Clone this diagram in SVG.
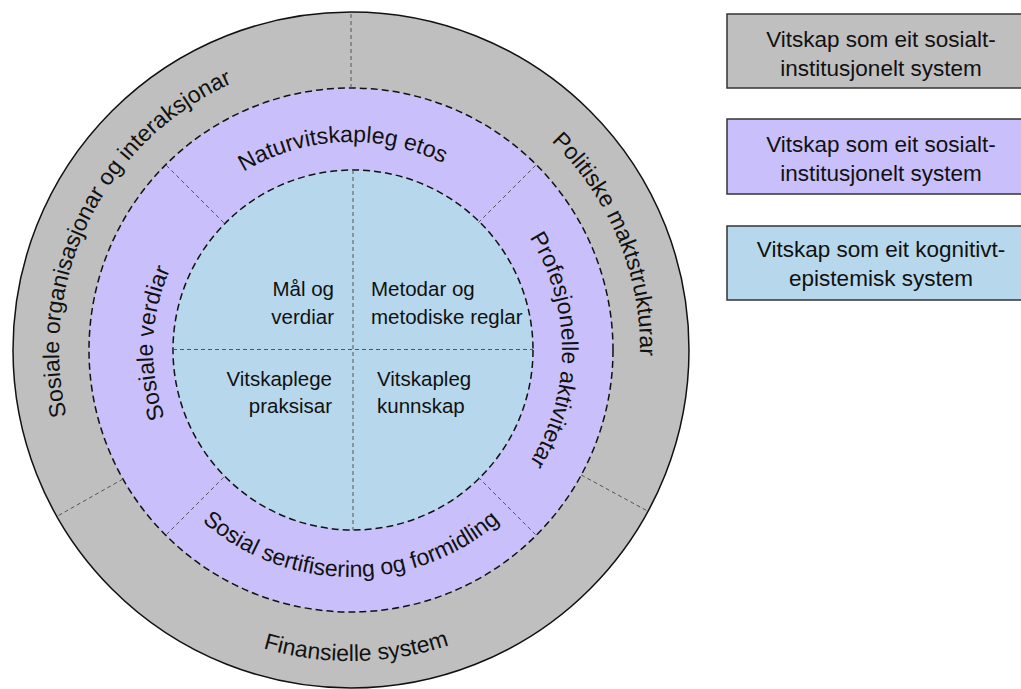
<svg xmlns="http://www.w3.org/2000/svg" xmlns:xlink="http://www.w3.org/1999/xlink" width="1021" height="689" viewBox="0 0 1021 689">
  <style>
    .lbl { font-family: "Liberation Sans", Arial, sans-serif; fill: #111; }
    .ring { font-size: 23px; }
    .core { font-size: 20.5px; }
    .key { font-size: 22.5px; text-anchor: middle; }
    .outer { fill: #bfbfbf; stroke: #111; stroke-width: 1.5; }
    .mid { fill: #c9c0fb; stroke: #111; stroke-width: 1.5; stroke-dasharray: 7 4; }
    .inner { fill: #b7d8ec; stroke: #111; stroke-width: 1.5; stroke-dasharray: 7 4; }
    .div { stroke: #555; stroke-width: 1; stroke-dasharray: 4 3; fill: none; }
    .box { stroke: #333; stroke-width: 1.5; }
  </style>
  <defs>
    <!-- baseline arcs for the curved ring labels -->
    <path id="arc-etos" d="M143.21,340.57 A208,208 0 0 1 557.27,323.21"/>
    <path id="arc-prof" d="M369.39,139.8 A211,211 0 0 1 369.39,560.2"/>
    <path id="arc-verd" d="M326.87,546.52 A198,198 0 0 1 340.64,152.27"/>
    <path id="arc-org" d="M198.43,598.97 A292,292 0 0 1 458.02,78.32"/>
    <path id="arc-pol" d="M264.09,74.37 A289,289 0 0 1 484.45,606.35"/>
    <path id="arc-sert" d="M124.86,369.78 A227,227 0 0 0 577.14,369.78"/>
    <path id="arc-fin" d="M41.7,382.51 A311,311 0 0 0 661.24,371.7"/>
  </defs>

  <g id="outer-ring">
    <circle class="outer" cx="351" cy="350" r="338"/>
  </g>
  <g id="middle-ring">
    <circle class="mid" cx="351" cy="350" r="262"/>
  </g>
  <g id="core">
    <circle class="inner" cx="353" cy="350" r="180"/>
  </g>

  <!-- sector dividers -->
  <g id="connectors">
    <line class="div" x1="351" y1="88" x2="351" y2="12"/>
    <line class="div" x1="581.25" y1="475.02" x2="648.04" y2="511.28"/>
    <line class="div" x1="122.97" y1="479.01" x2="56.82" y2="516.44"/>
    <line class="div" x1="223.72" y1="222.72" x2="165.74" y2="164.74"/>
    <line class="div" x1="478.28" y1="222.72" x2="536.26" y2="164.74"/>
    <line class="div" x1="223.72" y1="477.28" x2="165.74" y2="535.26"/>
    <line class="div" x1="478.28" y1="477.28" x2="536.26" y2="535.26"/>
    <line class="div" x1="173" y1="349.5" x2="533" y2="349.5"/>
    <line class="div" x1="353" y1="170" x2="353" y2="530"/>
  </g>

  <g id="label-organisasjonar"><text class="lbl ring"><textPath xlink:href="#arc-org" href="#arc-org" startOffset="50%" text-anchor="middle">Sosiale organisasjonar og interaksjonar</textPath></text></g>
  <g id="label-politiske"><text class="lbl ring"><textPath xlink:href="#arc-pol" href="#arc-pol" startOffset="50%" text-anchor="middle">Politiske maktstrukturar</textPath></text></g>
  <g id="label-finansielle"><text class="lbl ring"><textPath xlink:href="#arc-fin" href="#arc-fin" startOffset="50%" text-anchor="middle">Finansielle system</textPath></text></g>

  <g id="label-etos"><text class="lbl ring"><textPath xlink:href="#arc-etos" href="#arc-etos" startOffset="50%" text-anchor="middle">Naturvitskapleg etos</textPath></text></g>
  <g id="label-profesjonelle"><text class="lbl ring"><textPath xlink:href="#arc-prof" href="#arc-prof" startOffset="50%" text-anchor="middle">Profesjonelle aktivitetar</textPath></text></g>
  <g id="label-verdiar"><text class="lbl ring"><textPath xlink:href="#arc-verd" href="#arc-verd" startOffset="50%" text-anchor="middle">Sosiale verdiar</textPath></text></g>
  <g id="label-sertifisering"><text class="lbl ring"><textPath xlink:href="#arc-sert" href="#arc-sert" startOffset="50%" text-anchor="middle">Sosial sertifisering og formidling</textPath></text></g>

  <g id="q-maal">
    <text class="lbl core" text-anchor="end"><tspan x="334" y="296">Mål og</tspan><tspan x="334" y="324">verdiar</tspan></text>
  </g>
  <g id="q-metodar">
    <text class="lbl core"><tspan x="371" y="296">Metodar og</tspan><tspan x="371" y="324">metodiske reglar</tspan></text>
  </g>
  <g id="q-praksisar">
    <text class="lbl core" text-anchor="end"><tspan x="332" y="386">Vitskaplege</tspan><tspan x="332" y="413">praksisar</tspan></text>
  </g>
  <g id="q-kunnskap">
    <text class="lbl core"><tspan x="377" y="386">Vitskapleg</tspan><tspan x="377" y="413">kunnskap</tspan></text>
  </g>

  <g id="key-social-outer">
    <rect class="box" x="727" y="14" width="310" height="74" fill="#bfbfbf"/>
    <text class="lbl key"><tspan x="881" y="47">Vitskap som eit sosialt-</tspan><tspan x="881" y="76">institusjonelt system</tspan></text>
  </g>
  <g id="key-social-mid">
    <rect class="box" x="727" y="119" width="310" height="75" fill="#c9c0fb"/>
    <text class="lbl key"><tspan x="881" y="152">Vitskap som eit sosialt-</tspan><tspan x="881" y="181">institusjonelt system</tspan></text>
  </g>
  <g id="key-cognitive">
    <rect class="box" x="727" y="226" width="310" height="74" fill="#b7d8ec"/>
    <text class="lbl key"><tspan x="881" y="257">Vitskap som eit kognitivt-</tspan><tspan x="881" y="286">epistemisk system</tspan></text>
  </g>
</svg>
